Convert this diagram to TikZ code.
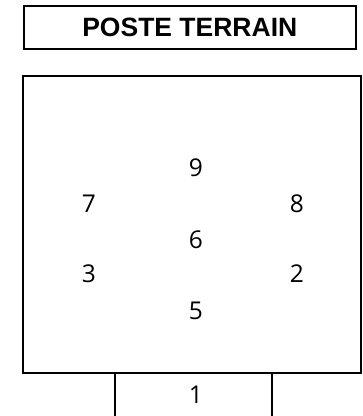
\documentclass[tikz,border=0pt]{standalone}
\usepackage{fontspec}
\setmainfont{Open Sans}
\newfontfamily\titlefont{Liberation Sans}
\begin{document}
\begin{tikzpicture}[x=1pt,y=-1pt,
  box/.style={draw=black,line width=1.6pt},
  num/.style={font=\fontsize{24.5}{28}\selectfont,inner sep=0pt,text=black}]
\useasboundingbox (0,0) rectangle (363,416);
\node[box,minimum width=332pt,minimum height=43pt,inner sep=0pt,anchor=north west,
  font=\titlefont\bfseries\fontsize{26.5}{30}\selectfont] (title) at (23,5) {POSTE TERRAIN};
\draw[box] (23,76) rectangle (361,373);
\coordinate (bl) at (115,373);
\coordinate (br) at (272,373);
\coordinate (blb) at (115,417);
\coordinate (brb) at (272,417);
\draw[box] (bl) -- (blb);
\draw[box] (br) -- (brb);
\node[num] (n9) at (196,168) {9};
\node[num] (n7) at (89,204) {7};
\node[num] (n8) at (297,204) {8};
\node[num] (n6) at (196,240) {6};
\node[num] (n3) at (89,274) {3};
\node[num] (n2) at (297,274) {2};
\node[num] (n5) at (196,311) {5};
\node[num] (n1) at (196,395) {1};
\end{tikzpicture}
\end{document}
